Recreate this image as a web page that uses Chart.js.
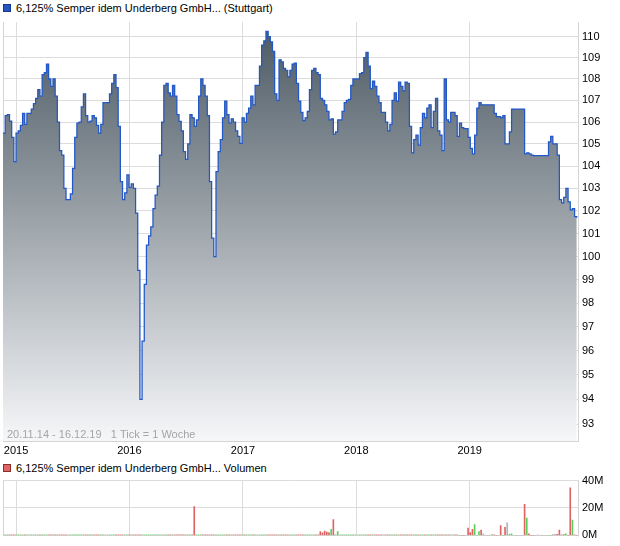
<!DOCTYPE html>
<html>
<head>
<meta charset="utf-8">
<script src="https://cdn.jsdelivr.net/npm/chart.js@4/dist/chart.umd.min.js"></script>
<style>
  body { margin: 0; width: 620px; height: 546px; background: #fff; position: relative; overflow: hidden;
         font-family: "Liberation Sans", Arial, sans-serif; }
  .leg { position: absolute; left: 3px; font-size: 11px; color: #000; white-space: nowrap; line-height: 13px; }
  .leg i { display: inline-block; width: 6px; height: 6px; margin-right: 5px; border: 1px solid; vertical-align: 0; }
  #priceChart { position: absolute; left: 0; top: 0; }
  #volChart { position: absolute; left: 0; top: 470px; }
</style>
</head>
<body>
<div class="leg" style="top:2px"><i style="background:#2455c3;border-color:#17358a"></i>6,125% Semper idem Underberg GmbH... (Stuttgart)</div>
<div class="leg" style="top:462px"><i style="background:#e06464;border-color:#8a2e2e"></i>6,125% Semper idem Underberg GmbH... Volumen</div>
<canvas id="priceChart" width="620" height="458"></canvas>
<canvas id="volChart" width="620" height="76"></canvas>
<script>
// Zeitraum und Achsen
const startDate = '2014-11-20';
const endDate = '2019-12-16';
const yearLabels = [2015, 2016, 2017, 2018, 2019];
const priceTicks = [93, 94, 95, 96, 97, 98, 99, 100, 101, 102, 103, 104, 105, 106, 107, 108, 109, 110];
const volTicks = [0, 20, 40];

// Wochenschlusskurse (1 Tick = 1 Woche)
const prices = [
  105.5, 106.3, 106.35, 106.05, 105.3, 104.2, 105.5, 105.6, 105.85, 106.4,
  105.9, 106.4, 106.4, 106.6, 106.85, 107.1, 107.5, 107.2, 108.2, 108.3,
  108.7, 108.0, 107.65, 108.0, 107.2, 106.0, 104.7, 104.5, 103.0, 102.5,
  102.5, 102.75, 103.9, 105.3, 105.95, 106.0, 106.7, 107.3, 106.3, 106.0,
  106.05, 106.3, 106.2, 105.85, 105.5, 105.9, 106.9, 106.9, 106.9, 107.3,
  107.8, 108.2, 107.6, 105.8, 103.3, 102.5, 102.8, 103.6, 103.05, 103.2,
  103.0, 101.9, 99.4, 94.0, 96.4, 98.8, 100.5, 100.9, 101.3, 102.1,
  102.7, 103.1, 104.5, 106.0, 107.7, 107.8, 107.35, 107.2, 107.7, 107.2,
  106.35, 106.03, 105.6, 104.65, 104.3, 105.0, 106.35, 106.2, 105.8, 106.1,
  107.2, 108.0, 107.7, 107.2, 106.3, 103.3, 100.8, 100.0, 103.75, 104.65,
  105.2, 106.2, 106.97, 106.35, 105.95, 106.15, 106.0, 105.6, 105.35, 105.03,
  106.2, 106.0, 106.4, 106.65, 107.2, 106.8, 107.7, 107.7, 108.6, 109.6,
  109.8, 110.25, 110.0, 109.75, 109.3, 107.3, 107.0, 108.9, 108.8, 108.5,
  108.4, 108.1, 108.4, 108.7, 108.75, 107.8, 106.97, 106.45, 106.07, 106.2,
  106.5, 107.5, 108.4, 108.5, 108.3, 108.2, 107.1, 107.0, 106.8, 106.5,
  106.1, 106.15, 105.45, 105.55, 106.1, 106.1, 106.5, 106.9, 107.0, 107.05,
  107.7, 108.0, 108.0, 108.0, 108.25, 108.3, 109.0, 109.25, 108.6, 107.55,
  107.9, 107.65, 107.2, 106.9, 106.45, 106.45, 106.0, 105.6, 105.9, 107.0,
  107.35, 106.97, 107.85, 107.65, 107.45, 107.85, 107.8, 105.8, 104.6, 105.2,
  105.4, 104.95, 105.75, 106.4, 106.2, 106.65, 106.8, 105.75, 106.5, 107.1,
  105.6, 105.4, 104.7, 108.0, 106.1, 106.0, 106.45, 106.45, 106.3, 105.35,
  105.95, 105.75, 105.7, 105.7, 105.3, 104.8, 104.55, 105.4, 106.65, 106.9,
  106.8, 106.8, 106.8, 106.8, 106.8, 106.8, 106.4, 106.25, 106.25, 106.2,
  106.3, 105.0, 105.0, 105.55, 106.6, 106.6, 106.6, 106.6, 106.6, 106.6,
  104.55, 104.6, 104.55, 104.5, 104.47, 104.47, 104.47, 104.47, 104.47, 104.47,
  104.47, 105.1, 105.35, 105.0, 105.0, 104.5, 102.5, 102.35, 102.6, 103.0,
  102.4, 102.05, 102.1, 101.75, 101.7
];

// Volumen in Mio. pro Woche
const volumes = [
  0.4, 0.4, 0.4, 0.4, 0.4, 0.4, 0.4, 0.4, 0.4, 0.4, 0.4, 0.4, 0.4, 0.4, 0.4,
  0.4, 0.4, 0.4, 0.4, 0.4, 0.4, 0.4, 0.4, 0.4, 0.4, 0.4, 0.4, 0.4, 0.4, 0.4,
  0.4, 0.4, 0.4, 0.4, 0.4, 0.4, 0.4, 0.4, 0.4, 0.4, 0.4, 0.4, 0.4, 0.4, 0.4,
  0.4, 0.4, 0.4, 0.4, 0.4, 0.4, 0.4, 0.4, 0.4, 0.4, 0.4, 0.4, 0.4, 0.4, 0.4,
  0.4, 0.4, 0.4, 0.4, 0.4, 0.4, 0.4, 0.4, 0.4, 0.4, 0.4, 0.4, 0.4, 0.4, 0.4,
  0.4, 0.4, 0.4, 0.4, 0.4, 0.4, 0.4, 0.4, 0.4, 0.4, 0.4, 0.4, 0.4, 21, 0.4,
  0.4, 0.4, 0.4, 0.4, 0.4, 0.4, 0.4, 0.4, 0.4, 0.4, 0.4, 0.4, 0.4, 0.4, 0.4,
  0.4, 0.4, 0.4, 0.4, 0.4, 0.4, 0.4, 0.4, 0.4, 0.4, 0.4, 0.4, 0.4, 0.4, 0.4,
  0.4, 0.4, 0.4, 0.4, 0.4, 0.4, 0.4, 0.4, 0.4, 0.4, 0.4, 0.4, 0.4, 0.4, 0.4,
  0.4, 0.4, 0.4, 0.4, 0.4, 0.4, 0.4, 0.4, 0.4, 0.4, 0.4, 2.7, 1.9, 3.2, 2.4,
  2.0, 4.5, 11.6, 0.4, 2.7, 0.4, 0.4, 0.4, 0.4, 0.4, 0.4, 0.4, 0.4, 0.4, 0.4,
  0.4, 0.4, 0.4, 0.4, 0.4, 0.4, 0.4, 0.4, 0.4, 0.4, 0.4, 0.4, 0.4, 0.4, 0.4,
  0.4, 0.4, 0.4, 0.4, 0.4, 0.4, 0.4, 0.4, 0.4, 0.4, 0.4, 0.4, 0.4, 0.4, 0.4,
  0.4, 0.4, 0.4, 0.4, 0.4, 0.4, 0.4, 0.4, 0.4, 0.4, 0.4, 0.4, 0.4, 0.4, 0.4,
  0, 0, 0, 0, 5.4, 2.0, 4.5, 7.9, 0, 2.7, 3.8, 1.1, 0, 0, 0,
  0.7, 0.5, 0, 0, 7.2, 0, 5.8, 9.2, 0.7, 1.1, 0, 0, 0, 0, 0,
  22.7, 12.6, 1.1, 0, 0, 0, 0.5, 0, 0, 0, 0, 0, 0, 0.5, 0.7,
  0.7, 3.8, 0.5, 0.7, 1.1, 0, 34.8, 11.2, 0.5, 0
];

const WEEK = 7 * 24 * 3600 * 1000;
const t0 = Date.parse(startDate);
const t1 = Date.parse(endDate);
const weeks = prices.map((p, i) => t0 + i * WEEK);
const yearStarts = yearLabels.map(y => Date.UTC(y, 0, 1));

// Farbe der Volumenbalken nach Kursrichtung
const volColors = prices.map((p, i) => {
  if (i === 0 || p === prices[i - 1]) return '#b4b4b4';
  return p > prices[i - 1] ? '#5dcd5d' : '#e06464';
});

const gridColor = '#dcdcdc';
const fontSpec = { family: '"Liberation Sans", Arial, sans-serif', size: 11 };

// linker Rahmen
const leftFrame = {
  id: 'leftFrame',
  beforeDatasetsDraw(chart) {
    const { ctx, chartArea } = chart;
    ctx.save();
    ctx.strokeStyle = '#d4d4d4';
    ctx.lineWidth = 1;
    ctx.beginPath();
    ctx.moveTo(Math.round(chartArea.left) + 0.5, chartArea.top);
    ctx.lineTo(Math.round(chartArea.left) + 0.5, chartArea.bottom);
    ctx.stroke();
    ctx.restore();
  }
};

const rangeNote = {
  id: 'rangeNote',
  afterDatasetsDraw(chart) {
    const { ctx, chartArea } = chart;
    ctx.save();
    ctx.font = '11px "Liberation Sans", Arial, sans-serif';
    ctx.fillStyle = '#a5a5a5';
    ctx.textBaseline = 'alphabetic';
    ctx.fillText('20.11.14 - 16.12.19   1 Tick = 1 Woche', chartArea.left + 4, chartArea.bottom - 3);
    ctx.restore();
  }
};

new Chart(document.getElementById('priceChart'), {
  type: 'line',
  data: {
    datasets: [{
      data: prices.map((p, i) => ({ x: weeks[i], y: p })),
      borderColor: '#2157c6',
      borderWidth: 1.25,
      pointRadius: 0,
      stepped: true,
      fill: 'start',
      backgroundColor: (c) => {
        const area = c.chart.chartArea;
        if (!area) return '#8a969f';
        const g = c.chart.ctx.createLinearGradient(0, area.top, 0, area.bottom);
        g.addColorStop(0, '#4b5862');
        g.addColorStop(1, '#f6f7f9');
        return g;
      }
    }]
  },
  options: {
    responsive: false,
    animation: false,
    layout: { padding: { left: 3, top: 22, right: 0, bottom: 0 } },
    plugins: { legend: { display: false }, tooltip: { enabled: false } },
    scales: {
      x: {
        type: 'linear', min: t0, max: t1,
        afterBuildTicks: s => { s.ticks = yearStarts.map(v => ({ value: v })); },
        afterFit: s => { s.height = 17; },
        ticks: { autoSkip: false, maxRotation: 0, padding: 3, color: '#000', font: fontSpec,
                 callback: (v, i) => String(yearLabels[i]) },
        grid: { color: gridColor, drawTicks: false },
        border: { color: '#d4d4d4' }
      },
      y: {
        type: 'logarithmic', position: 'right', min: 92.32, max: 110.7,
        afterBuildTicks: s => { s.ticks = priceTicks.map(v => ({ value: v })); },
        afterFit: s => { s.width = 42; },
        ticks: { padding: 4, color: '#000', font: fontSpec, callback: v => String(v) },
        grid: { color: gridColor, drawTicks: false },
        border: { color: '#d4d4d4' }
      }
    }
  },
  plugins: [leftFrame, rangeNote]
});

new Chart(document.getElementById('volChart'), {
  type: 'bar',
  data: {
    datasets: [{
      data: volumes.map((v, i) => ({ x: weeks[i], y: v })),
      backgroundColor: volColors,
      barThickness: 1
    }]
  },
  options: {
    responsive: false,
    animation: false,
    layout: { padding: { left: 3, top: 7, right: 0, bottom: 0 } },
    plugins: { legend: { display: false }, tooltip: { enabled: false } },
    scales: {
      x: {
        type: 'linear', min: t0, max: t1, offset: false,
        afterBuildTicks: s => { s.ticks = yearStarts.map(v => ({ value: v })); },
        afterFit: s => { s.height = 10; },
        ticks: { display: false },
        grid: { color: gridColor, drawTicks: false, offset: false },
        border: { color: '#d4d4d4' }
      },
      y: {
        position: 'right', min: 0, max: 40,
        afterBuildTicks: s => { s.ticks = volTicks.map(v => ({ value: v })); },
        afterFit: s => { s.width = 42; },
        ticks: { padding: 4, color: '#000', font: fontSpec, callback: v => v + 'M' },
        grid: { color: gridColor, drawTicks: false },
        border: { color: '#d4d4d4' }
      }
    }
  },
  plugins: [leftFrame]
});
</script>
</body>
</html>
